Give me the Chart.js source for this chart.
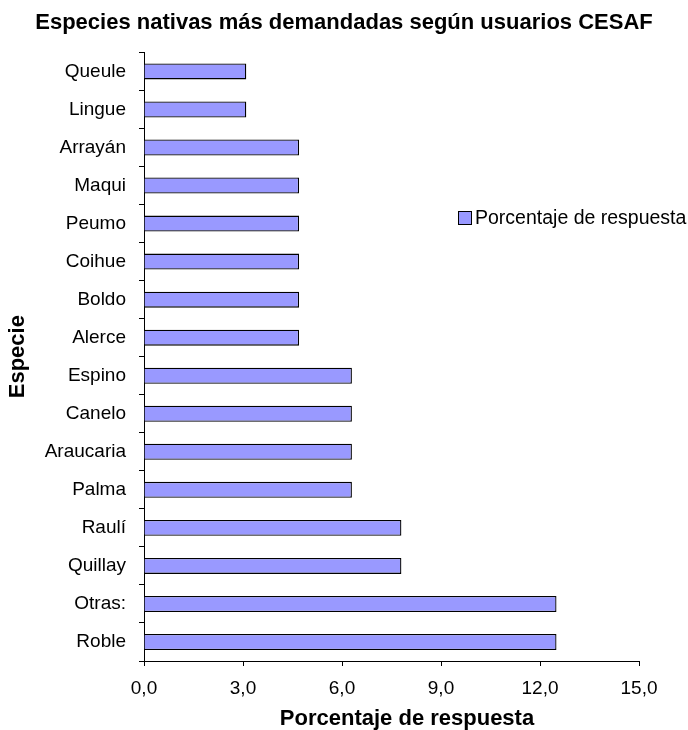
<!DOCTYPE html>
<html>
<head>
<meta charset="utf-8">
<title>Especies nativas</title>
<script src="https://cdn.jsdelivr.net/npm/chart.js@4.4.1/dist/chart.umd.min.js"></script>
<style>
  html, body { margin: 0; padding: 0; background: #fff; }
  #grafik { display: block; }
</style>
</head>
<body>
<canvas id="grafik" width="688" height="730"></canvas>
<script>
// datos del gráfico (de arriba hacia abajo)
const especies = ['Queule', 'Lingue', 'Arrayán', 'Maqui', 'Peumo', 'Coihue', 'Boldo', 'Alerce',
                  'Espino', 'Canelo', 'Araucaria', 'Palma', 'Raulí', 'Quillay', 'Otras:', 'Roble'];
const porcentajes = [3.1, 3.1, 4.7, 4.7, 4.7, 4.7, 4.7, 4.7,
                     6.3, 6.3, 6.3, 6.3, 7.8, 7.8, 12.5, 12.5];
const ticksX = [0, 3, 6, 9, 12, 15];

const FUENTE = "'Liberation Sans', Arial, sans-serif";
const COLOR_BARRA = '#9999FF';
const TITULO_X = 'Porcentaje de respuesta';

// leyenda y titulo del eje X dibujados a mano (posiciones libres como en el original)
const leyendaPlugin = {
    id: 'leyendaManual',
    afterDraw(chart) {
        const ctx = chart.ctx;
        const x = 458, y = 218, lado = 14;
        ctx.save();
        ctx.fillStyle = COLOR_BARRA;
        ctx.fillRect(x, y - lado / 2, lado, lado);
        ctx.strokeStyle = '#000';
        ctx.lineWidth = 1;
        ctx.strokeRect(x + 0.5, y - lado / 2 + 0.5, lado - 1, lado - 1);
        ctx.fillStyle = '#000';
        ctx.font = '19.5px ' + FUENTE;
        ctx.textBaseline = 'middle';
        ctx.textAlign = 'left';
        ctx.fillText(chart.data.datasets[0].label, x + lado + 3, y + 1);

        // titulo eje X
        ctx.font = 'bold 22px ' + FUENTE;
        ctx.textAlign = 'center';
        ctx.fillText(TITULO_X, 407, 719);
        ctx.restore();
    }
};

new Chart(document.getElementById('grafik'), {
    type: 'bar',
    data: {
        labels: especies,
        datasets: [{
            label: 'Porcentaje de respuesta',
            data: porcentajes,
            backgroundColor: COLOR_BARRA,
            borderColor: '#000',
            borderWidth: 1.3,
            categoryPercentage: 1,
            barPercentage: 0.42
        }]
    },
    options: {
        indexAxis: 'y',
        responsive: false,
        animation: false,
        layout: { padding: { left: 6, right: 6, top: 0, bottom: 0 } },
        plugins: {
            legend: { display: false },
            tooltip: { enabled: false },
            title: {
                display: true,
                text: 'Especies nativas más demandadas según usuarios CESAF',
                color: '#000',
                font: { family: FUENTE, size: 22, weight: 'bold', lineHeight: 1.2 },
                padding: { top: 10, bottom: 16 }
            }
        },
        scales: {
            x: {
                min: 0,
                max: 15,
                afterBuildTicks: (scale) => { scale.ticks = ticksX.map(v => ({ value: v })); },
                afterFit: (scale) => { scale.height = 69; },
                ticks: {
                    color: '#000',
                    padding: 11,
                    font: { family: FUENTE, size: 19 },
                    callback: (v) => Number(v).toFixed(1).replace('.', ',')
                },
                grid: { drawOnChartArea: false, color: '#000', tickLength: 5 },
                border: { color: '#000', width: 1 }
            },
            y: {
                afterFit: (scale) => { scale.width = 138; },
                ticks: {
                    color: '#000',
                    padding: 13,
                    font: { family: FUENTE, size: 19 }
                },
                grid: { drawOnChartArea: false, offset: true, color: '#000', tickLength: 5 },
                border: { color: '#000', width: 1 },
                title: {
                    display: true,
                    text: 'Especie',
                    color: '#000',
                    font: { family: FUENTE, size: 22, weight: 'bold', lineHeight: 1.1 },
                    padding: 0
                }
            },
            // eje vacio a la derecha, solo reserva el margen
            margen: {
                type: 'linear',
                position: 'right',
                afterFit: (scale) => { scale.width = 43; },
                ticks: { display: false },
                grid: { display: false },
                border: { display: false }
            }
        }
    },
    plugins: [leyendaPlugin]
});
</script>
</body>
</html>
